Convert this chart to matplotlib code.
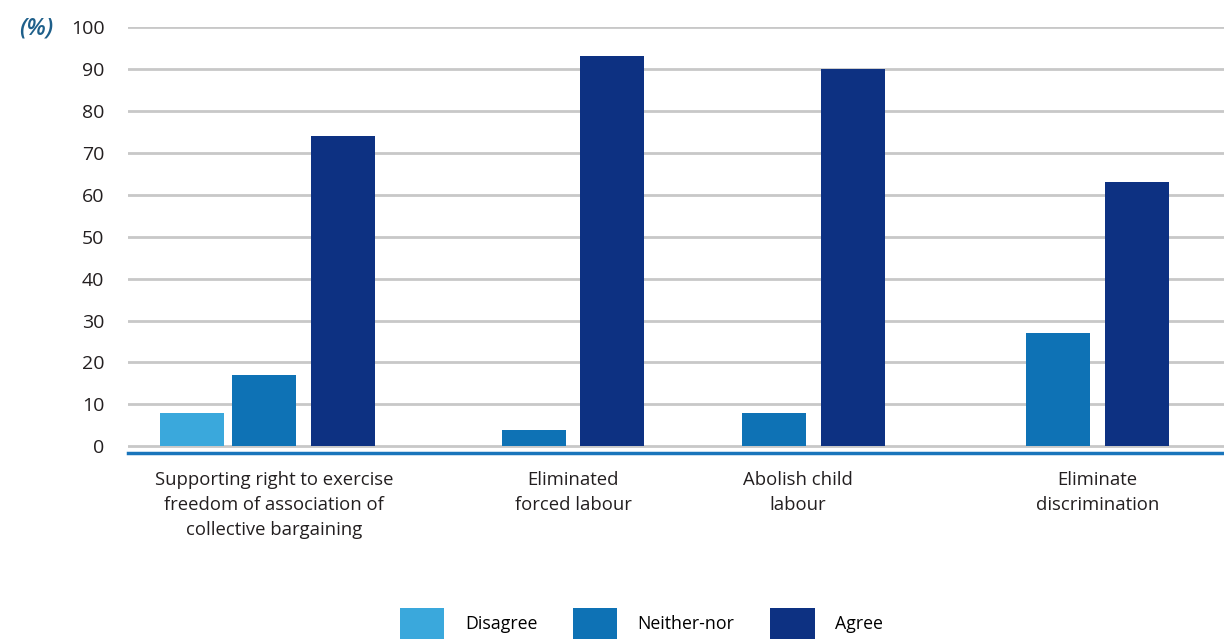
import numpy as np
import matplotlib
matplotlib.use("Agg")
import matplotlib.pyplot as plt

categories = ["Supporting right to exercise\nfreedom of association of\ncollective bargaining",
              "Eliminated\nforced labour",
              "Abolish child\nlabour",
              "Eliminate\ndiscrimination"]
series = ["Disagree", "Neither-nor", "Agree"]
disagree = [8, None, None, None]
neither = [17, 4, 8, 27]
agree = [74, 93, 90, 63]
yticks = [0, 10, 20, 30, 40, 50, 60, 70, 80, 90, 100]

colors = ["#3aa8dc", "#0e72b5", "#0d3182"]
group_x = np.array([0, 3.46, 6.54, 10.18])
offsets = [-0.92, 0, 1.01]
label_nudge = [0.1, 0, -0.2, 0]
width = 0.82

plt.rcParams['font.family'] = ['Open Sans', 'DejaVu Sans']

fig = plt.figure(figsize=(12.24, 6.41), dpi=100)
ax = fig.add_axes([128 / 1224, 188 / 641, 1 - 128 / 1224, 426 / 641])

for vals, name, col, off in zip([disagree, neither, agree], series, colors, offsets):
    xs = [g + off for g, v in zip(group_x, vals) if v is not None]
    hs = [v for v in vals if v is not None]
    ax.bar(xs, hs, width=width, color=col, label=name, zorder=3)

ax.set_xlim(-1.74, 12.31)
ax.set_ylim(-1.6, 100)
ax.set_yticks(yticks)
ax.set_yticklabels([str(t) for t in yticks], fontsize=14, color="#231f20")
ax.tick_params(axis="y", length=0, pad=17)
ax.tick_params(axis="x", length=0)
ax.set_xticks([])
ax.grid(axis="y", color="#c8c8c8", linewidth=2, zorder=0)
for s in ["top", "right", "left"]:
    ax.spines[s].set_visible(False)
ax.spines["bottom"].set_color("#1a75bb")
ax.spines["bottom"].set_linewidth(2.5)

# category labels centred under the bars that are present
for i, cat in enumerate(categories):
    present = [group_x[i] + off for vals, off in zip([disagree, neither, agree], offsets)
               if vals[i] is not None]
    ax.text(np.mean(present) + label_nudge[i], -5.9, cat, ha="center", va="top",
            fontsize=13.3, color="#231f20", linespacing=1.5)

fig.text(36 / 1224, 1 - 29 / 641, "(%)", fontsize=17, style="italic", fontweight="semibold",
         color="#1e5f8a", ha="center", va="center")

fig.legend(loc="center", bbox_to_anchor=(0.524, 0.028), ncol=3, frameon=False,
           fontsize=12.8, handlelength=2.5, handleheight=2.3, handletextpad=1.15,
           columnspacing=2.0)

fig.savefig("out.png", dpi=100)
